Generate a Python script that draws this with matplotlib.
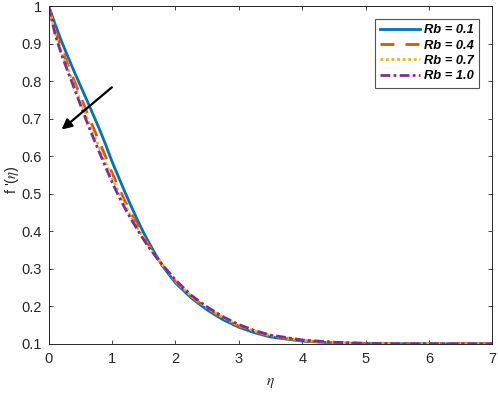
import matplotlib
matplotlib.use("Agg")
import matplotlib.pyplot as plt

plt.rcParams['font.family'] = ['Liberation Sans', 'DejaVu Sans']
plt.rcParams['mathtext.fontset'] = 'stix'

# eta grid and f'(eta)
eta = [0, 0.1, 0.2, 0.3, 0.4, 0.5, 0.6, 0.7, 0.8, 0.9, 1.0, 1.1, 1.2, 1.3, 1.4,
       1.5, 1.6, 1.7, 1.8, 2.0, 2.25, 2.5, 2.75, 3.0, 3.25, 3.5, 4.0, 4.5, 5.0,
       5.5, 6.0, 7.0]
f_rb01 = [1.0, 0.952, 0.907, 0.866, 0.826, 0.788, 0.750, 0.711, 0.672, 0.630, 0.585,
          0.545, 0.505, 0.467, 0.430, 0.395, 0.364, 0.334, 0.306, 0.262, 0.222, 0.190,
          0.164, 0.144, 0.129, 0.118, 0.107, 0.102, 0.1005, 0.1, 0.1, 0.1]
f_rb04 = [1.0, 0.937, 0.888, 0.844, 0.802, 0.760, 0.718, 0.677, 0.638, 0.597, 0.555,
          0.518, 0.481, 0.448, 0.416, 0.385, 0.357, 0.332, 0.308, 0.266, 0.225, 0.194,
          0.168, 0.147, 0.132, 0.120, 0.108, 0.103, 0.1008, 0.1, 0.1, 0.1]
f_rb07 = [1.0, 0.930, 0.879, 0.834, 0.791, 0.747, 0.704, 0.662, 0.622, 0.582, 0.542,
          0.505, 0.471, 0.439, 0.409, 0.381, 0.354, 0.331, 0.309, 0.268, 0.227, 0.196,
          0.170, 0.149, 0.134, 0.122, 0.109, 0.1035, 0.101, 0.1, 0.1, 0.1]
f_rb10 = [1.0, 0.925, 0.872, 0.826, 0.782, 0.737, 0.692, 0.650, 0.610, 0.570, 0.531,
          0.495, 0.462, 0.432, 0.404, 0.377, 0.352, 0.330, 0.309, 0.270, 0.229, 0.198,
          0.172, 0.151, 0.135, 0.123, 0.110, 0.104, 0.101, 0.1, 0.1, 0.1]

etiquetas = ['Rb = 0.1', 'Rb = 0.4', 'Rb = 0.7', 'Rb = 1.0']
x_ticks = [0, 1, 2, 3, 4, 5, 6, 7]
y_ticks = [0.1, 0.2, 0.3, 0.4, 0.5, 0.6, 0.7, 0.8, 0.9, 1.0]
y_tick_labels = ['0.1', '0.2', '0.3', '0.4', '0.5', '0.6', '0.7', '0.8', '0.9', '1']

gris = '#262626'
fig = plt.figure(figsize=(4.98, 3.93), dpi=100)
ax = fig.add_axes([0.0978, 0.1254, 0.8908, 0.8593])

ax.plot(eta, f_rb01, color='#0072BD', lw=2.0, ls='-', label=etiquetas[0])
ax.plot(eta, f_rb04, color='#D95319', lw=2.0, ls=(0, (5, 4)), label=etiquetas[1])
ax.plot(eta, f_rb07, color='#EDB120', lw=2.0, ls=(0, (1, 1)), label=etiquetas[2])
ax.plot(eta, f_rb10, color='#7E2F8E', lw=2.0, ls=(0, (3.5, 1.2, 1, 1.2)), label=etiquetas[3])

ax.annotate('', xy=(0.17, 0.666), xytext=(1.03, 0.788),
            arrowprops=dict(arrowstyle='-|>', color='black', lw=1.6, mutation_scale=15))

ax.set_xlim(0, 7)
ax.set_ylim(0.1, 1)
ax.set_xticks(x_ticks)
ax.set_yticks(y_ticks)
ax.set_yticklabels(y_tick_labels)
ax.tick_params(direction='in', length=3, width=0.6, colors=gris, labelsize=10.5,
               top=True, right=True)
ax.tick_params(axis='x', pad=6)
ax.tick_params(axis='y', pad=5)
for s in ax.spines.values():
    s.set_color(gris)
    s.set_linewidth(0.7)

ax.set_xlabel(r'$\eta$', fontsize=11, color=gris, labelpad=7)
ax.set_ylabel(r"f '($\eta$)", fontsize=10.5, color=gris)
ax.yaxis.set_label_coords(-0.063, 0.485)

leg = ax.legend(loc='upper right', bbox_to_anchor=(1, 1), fancybox=False,
                edgecolor=gris, handlelength=3.1, borderpad=0.4, labelspacing=0.26,
                handletextpad=0.33, borderaxespad=1.0,
                prop={'weight': 'bold', 'style': 'italic', 'size': 9.3})
leg.get_frame().set_linewidth(0.8)

plt.savefig('out.png', dpi=100)
